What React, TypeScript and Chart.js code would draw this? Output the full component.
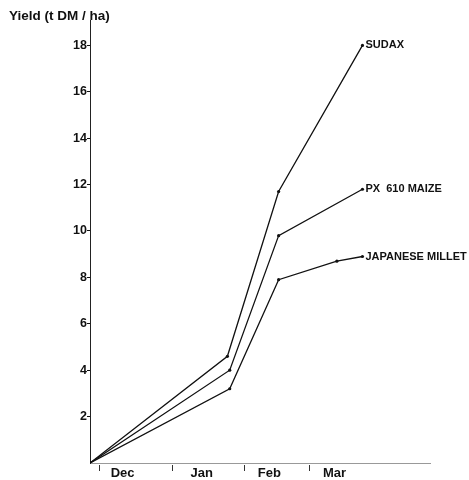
import React, { useEffect, useRef } from "react";
import { Chart, registerables } from "chart.js";

Chart.register(...registerables);

const seriesNames = ["SUDAX", "PX  610 MAIZE", "JAPANESE MILLET"];
const sudaxDays = [0, 59, 81, 117];
const sudaxYield = [0, 4.6, 11.7, 18.0];
const maizeDays = [0, 60, 81, 117];
const maizeYield = [0, 4.0, 9.8, 11.8];
const milletDays = [0, 60, 81, 106, 117];
const milletYield = [0, 3.2, 7.9, 8.7, 8.9];
const monthLabels = ["Dec", "Jan", "Feb", "Mar"];
const monthLabelDays = [14, 48, 77, 105];
const monthStartDays = [4, 35, 66, 94];
const yTickValues = [2, 4, 6, 8, 10, 12, 14, 16, 18];
const yTitle = "Yield (t DM / ha)";

const FONT = "'Liberation Sans', Arial, sans-serif";

const toPoints = (xs: number[], ys: number[]) => xs.map((x, i) => ({ x, y: ys[i] }));

const annotationPlugin = {
  id: "annotations",
  afterDraw(chart: any) {
    const ctx = chart.ctx;
    const xs = chart.scales.x;
    const ys = chart.scales.y;
    ctx.save();
    // title
    ctx.fillStyle = "#111";
    ctx.font = `bold 13.5px ${FONT}`;
    ctx.textBaseline = "middle";
    ctx.textAlign = "left";
    ctx.fillText(yTitle, 9, 16);
    // y axis extension above the chart area
    ctx.strokeStyle = "#222";
    ctx.lineWidth = 1;
    const ax = Math.round(xs.getPixelForValue(0)) + 0.5;
    ctx.beginPath();
    ctx.moveTo(ax, 20);
    ctx.lineTo(ax, chart.chartArea.top);
    ctx.stroke();
    // month boundary marks
    ctx.strokeStyle = "#333";
    monthStartDays.forEach((d) => {
      const px = Math.round(xs.getPixelForValue(d)) + 0.5;
      const y0 = ys.getPixelForValue(0);
      ctx.beginPath();
      ctx.moveTo(px, y0 + 2);
      ctx.lineTo(px, y0 + 8);
      ctx.stroke();
    });
    // series labels
    ctx.font = `bold 11px ${FONT}`;
    chart.data.datasets.forEach((ds: any, i: number) => {
      const meta = chart.getDatasetMeta(i);
      const last = meta.data[meta.data.length - 1];
      ctx.fillText(seriesNames[i], last.x + 3, last.y);
    });
    ctx.restore();
  },
};

export default function App() {
  const ref = useRef<HTMLCanvasElement>(null);
  useEffect(() => {
    if (!ref.current) return;
    const lineStyle = {
      borderColor: "#111",
      borderWidth: 1.3,
      pointRadius: 1.6,
      pointBackgroundColor: "#111",
      pointBorderWidth: 0,
      tension: 0,
      fill: false,
    };
    const chart = new Chart(ref.current, {
      type: "line",
      data: {
        datasets: [
          { label: seriesNames[0], data: toPoints(sudaxDays, sudaxYield), ...lineStyle },
          { label: seriesNames[1], data: toPoints(maizeDays, maizeYield), ...lineStyle },
          { label: seriesNames[2], data: toPoints(milletDays, milletYield), ...lineStyle },
        ],
      },
      options: {
        animation: false,
        responsive: false,
        layout: { padding: { top: 24.5, right: 39, left: 0, bottom: 0 } },
        plugins: { legend: { display: false }, tooltip: { enabled: false }, title: { display: false } },
        scales: {
          x: {
            type: "linear",
            min: 0,
            max: 146,
            afterBuildTicks: (s: any) => {
              s.ticks = monthLabelDays.map((v) => ({ value: v }));
            },
            afterFit: (s: any) => {
              s.height = 17;
            },
            grid: { display: false },
            border: { display: true, color: "rgba(0,0,0,0.4)", width: 1, dash: [4, 4] },
            ticks: {
              autoSkip: false,
              maxRotation: 0,
              padding: -5,
              color: "#111",
              font: { family: FONT, size: 13, weight: "bold" },
              callback: (_v: any, i: number) => monthLabels[i],
            },
          },
          y: {
            type: "linear",
            min: 0,
            max: 18.9,
            afterBuildTicks: (s: any) => {
              s.ticks = yTickValues.map((v) => ({ value: v }));
            },
            afterFit: (s: any) => {
              s.width = 90;
            },
            grid: { drawOnChartArea: false, tickLength: 3, color: "#111" },
            border: { display: true, color: "#222", width: 1 },
            ticks: {
              padding: 0,
              color: "#111",
              font: { family: FONT, size: 12.5, weight: "bold" },
              callback: (v: any) => String(v),
            },
          },
        },
      },
      plugins: [annotationPlugin],
    } as any);
    return () => chart.destroy();
  }, []);
  return (
    <div style={{ position: "fixed", left: 0, top: 0, width: 469, height: 480, background: "#fff" }}>
      <canvas ref={ref} width={469} height={480} style={{ display: "block" }} />
    </div>
  );
}
